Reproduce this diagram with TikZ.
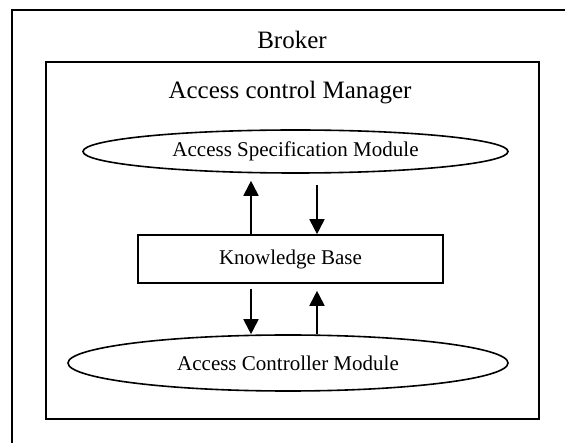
\documentclass[tikz,border=0pt]{standalone}
\usepackage{fontspec}
\setmainfont{Liberation Serif}
\usepackage{tikz}
\usetikzlibrary{arrows.meta,calc,positioning,shapes.geometric}
\tikzset{
  acframe/.style={draw=black, line width=1.6pt},
  acmodule/.style={draw=black, ellipse, line width=1.6pt, inner sep=0pt, align=center, font=\fontsize{21}{25}\selectfont},
  acbase/.style={draw=black, rectangle, line width=1.6pt, inner sep=0pt, align=center, font=\fontsize{21}{25}\selectfont},
  actitle/.style={inner sep=0pt, font=\fontsize{25}{30}\selectfont},
  acarrow/.style={-{Triangle[length=15pt, width=15pt]}, line width=1.8pt, draw=black}
}
\begin{document}
\begin{tikzpicture}[x=1pt, y=-1pt]
  \clip (0,0) rectangle (565,443);
  \fill[white] (0,0) rectangle (565,443);
  % broker frame runs off the page at the right and bottom
  \draw[acframe] (12,10) rectangle (590,470);
  \node[actitle] (broker) at (292,40) {Broker};
  \draw[acframe] (46,62) rectangle (539,419);
  \node[actitle] (manager) at (290,93) {Access control Manager};
  \node[acmodule, minimum width=425pt, minimum height=43pt] (spec) at (295.5,151.5) {Access Specification Module};
  \node[acbase, minimum width=305pt, minimum height=48pt] (kb) at (290.5,259) {Knowledge Base};
  \node[acmodule, minimum width=440pt, minimum height=56pt] (ctrl) at (288,363) {Access Controller Module};
  \coordinate (lx) at (251,0);
  \coordinate (rx) at (317,0);
  \draw[acarrow, shorten >=7pt] (lx |- kb.north) -- (lx |- spec.south);
  \draw[acarrow, shorten <=11pt] (rx |- spec.south) -- (rx |- kb.north);
  \draw[acarrow, shorten <=5pt] (lx |- kb.south) -- (lx |- ctrl.north);
  \draw[acarrow, shorten >=7pt] (rx |- ctrl.north) -- (rx |- kb.south);
\end{tikzpicture}
\end{document}
